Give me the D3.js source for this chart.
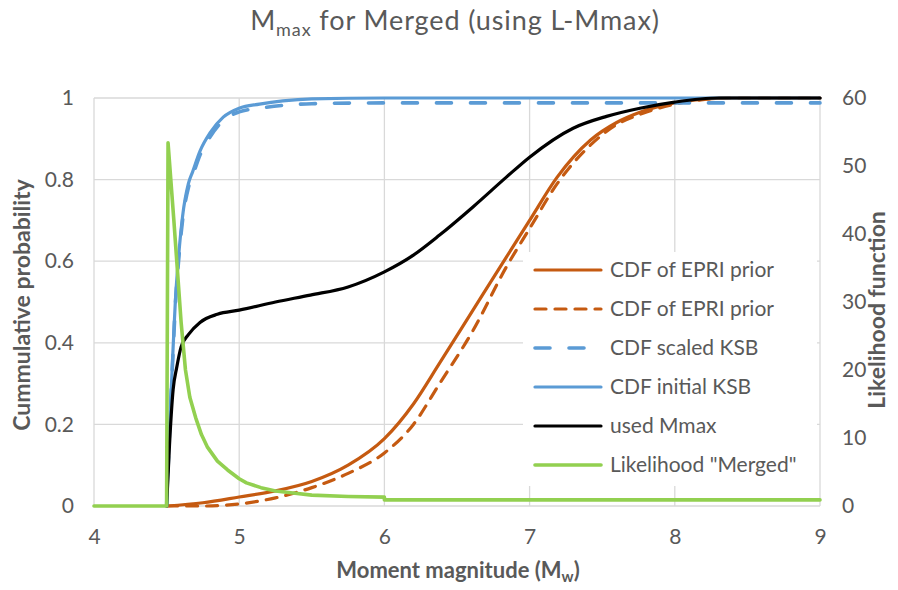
<!DOCTYPE html>
<html>
<head>
<meta charset="utf-8">
<script src="https://cdn.jsdelivr.net/npm/d3@7"></script>
<style>
  html, body { margin: 0; padding: 0; background: #fff; }
  svg { display: block; font-family: Lato, "Open Sans", sans-serif; }
</style>
</head>
<body>
<div id="chart"></div>
<script>
// ---- Daten ----
const xTicks = [4, 5, 6, 7, 8, 9];
const yTicksLeft = [0, 0.2, 0.4, 0.6, 0.8, 1];
const yTicksRight = [0, 10, 20, 30, 40, 50, 60];

const epriM = [4.5, 4.75, 5.0, 5.25, 5.5, 5.75, 6.0, 6.2, 6.38, 6.61, 6.84, 7.0, 7.19, 7.42, 7.6, 7.76, 8.0, 8.22, 8.4, 9];
const epriCdf = [0, 0.008, 0.022, 0.037, 0.06, 0.1, 0.165, 0.25, 0.35, 0.48, 0.61, 0.70, 0.806, 0.897, 0.94, 0.965, 0.988, 0.998, 1, 1];
const epriCdf2 = [0, 0.0, 0.005, 0.02, 0.045, 0.08, 0.13, 0.2, 0.30, 0.43, 0.586, 0.68, 0.79, 0.885, 0.935, 0.96, 0.985, 0.997, 1, 1];

const ksbM = [4.5, 4.52, 4.545, 4.56, 4.58, 4.61, 4.65, 4.68, 4.73, 4.8, 4.89, 5.0, 5.14, 5.3, 5.5, 6, 9];
const ksbInitial = [0, 0.19, 0.39, 0.5, 0.6, 0.71, 0.79, 0.82, 0.87, 0.915, 0.953, 0.975, 0.985, 0.993, 0.998, 1, 1];
const ksbScaled = [0, 0.18, 0.38, 0.49, 0.59, 0.70, 0.78, 0.81, 0.86, 0.905, 0.945, 0.966, 0.975, 0.982, 0.986, 0.988, 0.988];

const usedM = [4.5, 4.52, 4.545, 4.57, 4.6, 4.65, 4.73, 4.85, 5.0, 5.25, 5.49, 5.75, 6.0, 6.2, 6.38, 6.61, 6.84, 7.0, 7.3, 7.53, 7.76, 8.0, 8.3, 9];
const usedCdf = [0, 0.15, 0.285, 0.34, 0.39, 0.42, 0.45, 0.47, 0.48, 0.5, 0.517, 0.537, 0.574, 0.615, 0.664, 0.733, 0.806, 0.855, 0.926, 0.955, 0.975, 0.99, 1, 1];

const likeM = [4, 4.5, 4.51, 4.55, 4.57, 4.6, 4.63, 4.66, 4.7, 4.74, 4.78, 4.85, 4.92, 5.0, 5.05, 5.15, 5.25, 5.37, 5.5, 5.75, 6.0, 6.0, 9];
const likeVal = [0, 0, 53.4, 42, 36, 27, 20, 16, 13, 10.5, 8.7, 6.6, 5.3, 4.0, 3.4, 2.7, 2.2, 1.9, 1.6, 1.4, 1.3, 0.9, 0.9];

const legendLabels = ['CDF of EPRI prior', 'CDF of EPRI prior', 'CDF scaled KSB', 'CDF initial KSB', 'used Mmax', 'Likelihood "Merged"'];

// ---- Layout ----
const W = 898, H = 590;
const P = { left: 94, right: 820, top: 98, bottom: 506 };
const textCol = '#595959';
const gridCol = '#d9d9d9';

const svg = d3.select('#chart').append('svg').attr('width', W).attr('height', H);

const x = d3.scaleLinear().domain([4, 9]).range([P.left, P.right]);
const yL = d3.scaleLinear().domain([0, 1]).range([P.bottom, P.top]);
const yR = d3.scaleLinear().domain([0, 60]).range([P.bottom, P.top]);

// Gitter
const gGrid = svg.append('g').attr('class', 'grid');
gGrid.selectAll('line.gy').data(yTicksLeft).join('line')
  .attr('class', 'gy')
  .attr('x1', P.left).attr('x2', P.right)
  .attr('y1', d => yL(d)).attr('y2', d => yL(d))
  .attr('stroke', gridCol).attr('stroke-width', 1.3);
gGrid.selectAll('line.gx').data(xTicks).join('line')
  .attr('class', 'gx')
  .attr('x1', d => x(d)).attr('x2', d => x(d))
  .attr('y1', P.top).attr('y2', P.bottom)
  .attr('stroke', gridCol).attr('stroke-width', 1.3);

// Achsen (nur Beschriftung)
function styleAxis(g) {
  g.select('.domain').remove();
  g.selectAll('.tick line').remove();
  g.selectAll('.tick text')
    .attr('fill', textCol)
    .attr('font-size', 21)
    .attr('font-family', 'Lato, "Open Sans", sans-serif');
}

svg.append('g')
  .attr('transform', `translate(0,${P.bottom})`)
  .call(d3.axisBottom(x).tickValues(xTicks).tickFormat(d3.format('d')).tickSize(0).tickPadding(23))
  .call(styleAxis);

svg.append('g')
  .attr('transform', `translate(${P.left},0)`)
  .call(d3.axisLeft(yL).tickValues(yTicksLeft).tickFormat(d => d === 0 || d === 1 ? String(d) : d3.format('.1f')(d)).tickSize(0).tickPadding(20))
  .call(styleAxis);

svg.append('g')
  .attr('transform', `translate(${P.right},0)`)
  .call(d3.axisRight(yR).tickValues(yTicksRight).tickFormat(d3.format('d')).tickSize(0).tickPadding(22))
  .call(styleAxis);

// Linien
svg.append('clipPath').attr('id', 'plotclip').append('rect')
  .attr('x', P.left - 3).attr('y', P.top - 6)
  .attr('width', P.right - P.left + 6).attr('height', P.bottom - P.top + 10);

const gLines = svg.append('g').attr('clip-path', 'url(#plotclip)');

const orange = '#c55a11', blue = '#5b9bd5', green = '#92d050';

const series = [
  { xs: epriM, ys: epriCdf, y: yL, color: orange, dash: null, w: 3.2, curve: d3.curveMonotoneX },
  { xs: epriM, ys: epriCdf2, y: yL, color: orange, dash: '11,9', w: 3.2, curve: d3.curveMonotoneX },
  { xs: ksbM, ys: ksbScaled, y: yL, color: blue, dash: '15,19', w: 3.6, curve: d3.curveMonotoneX },
  { xs: ksbM, ys: ksbInitial, y: yL, color: blue, dash: null, w: 3.2, curve: d3.curveMonotoneX },
  { xs: usedM, ys: usedCdf, y: yL, color: '#000', dash: null, w: 3.2, curve: d3.curveMonotoneX },
  { xs: likeM, ys: likeVal, y: yR, color: green, dash: null, w: 3.6, curve: d3.curveLinear },
];

series.forEach(s => {
  const pts = s.xs.map((m, i) => [m, s.ys[i]]);
  const line = d3.line().curve(s.curve).x(d => x(d[0])).y(d => s.y(d[1]));
  gLines.append('path')
    .datum(pts)
    .attr('d', line)
    .attr('fill', 'none')
    .attr('stroke', s.color)
    .attr('stroke-width', s.w)
    .attr('stroke-linejoin', 'round')
    .attr('stroke-linecap', 'round')
    .attr('stroke-dasharray', s.dash);
});

// Legende
const gLeg = svg.append('g').attr('class', 'legend');
gLeg.append('rect')
  .attr('x', 523).attr('y', 252).attr('width', 294).attr('height', 234)
  .attr('fill', '#fff');
const rowY = d3.scalePoint().domain(d3.range(legendLabels.length)).range([270, 465]);
const rows = gLeg.selectAll('g.row').data(legendLabels).join('g')
  .attr('class', 'row')
  .attr('transform', (d, i) => `translate(0,${rowY(i)})`);
rows.append('line')
  .attr('x1', 535).attr('x2', 601).attr('y1', 0).attr('y2', 0)
  .attr('stroke', (d, i) => series[i].color)
  .attr('stroke-width', (d, i) => series[i].w)
  .attr('stroke-linecap', 'round')
  .attr('stroke-dasharray', (d, i) => series[i].dash);
rows.append('text')
  .attr('x', 610).attr('y', 0)
  .attr('dy', '0.35em')
  .attr('fill', textCol)
  .attr('font-size', 21)
  .text(d => d);

// Titel
const title = svg.append('text')
  .attr('x', W / 2 + 6).attr('y', 30)
  .attr('text-anchor', 'middle')
  .attr('fill', textCol)
  .attr('font-size', 27)
  .attr('letter-spacing', 0.9);
title.append('tspan').text('M');
title.append('tspan').attr('font-size', 18).attr('dy', 6).text('max');
title.append('tspan').attr('dy', -6).text(' for Merged (using L-Mmax)');

// Achsentitel
const xTitle = svg.append('text')
  .attr('x', 458).attr('y', 578)
  .attr('text-anchor', 'middle')
  .attr('fill', textCol)
  .attr('font-size', 22)
  .attr('font-weight', 'bold');
xTitle.append('tspan').text('Moment magnitude (M');
xTitle.append('tspan').attr('font-size', 15).attr('dy', 4).text('w');
xTitle.append('tspan').attr('dy', -4).text(')');

svg.append('text')
  .attr('transform', 'translate(30,305) rotate(-90)')
  .attr('text-anchor', 'middle')
  .attr('fill', textCol)
  .attr('font-size', 23)
  .attr('font-weight', 'bold')
  .text('Cummulative probability');

svg.append('text')
  .attr('transform', 'translate(885,310) rotate(-90)')
  .attr('text-anchor', 'middle')
  .attr('fill', textCol)
  .attr('font-size', 23)
  .attr('font-weight', 'bold')
  .text('Likelihood function');
</script>
</body>
</html>
